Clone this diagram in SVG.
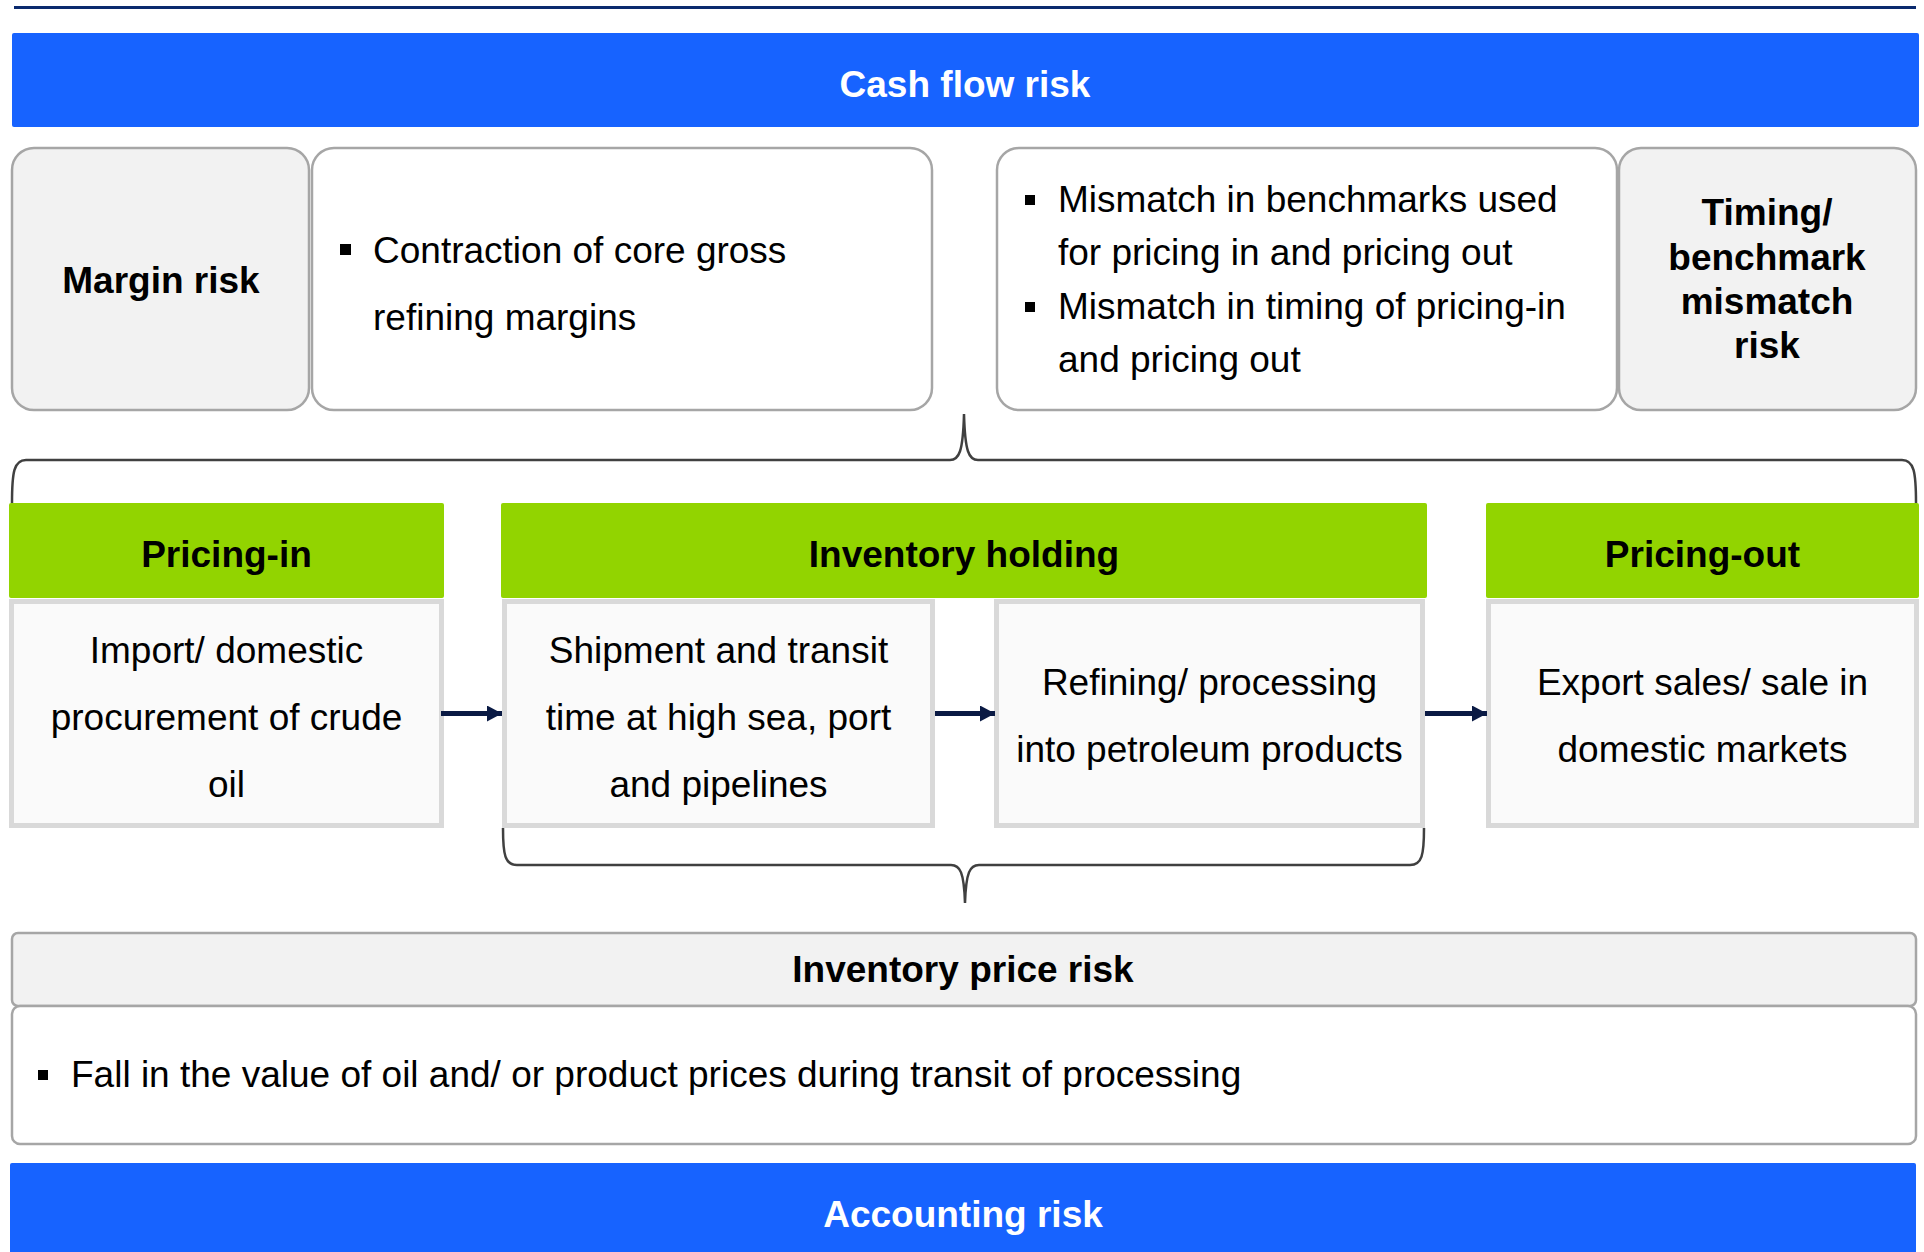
<svg xmlns="http://www.w3.org/2000/svg" width="1924" height="1252" viewBox="0 0 1924 1252">
  <style>
    text { font-family: "Liberation Sans", Arial, Helvetica, sans-serif; font-size: 37px; fill: #000; }
    .b { font-weight: bold; }
    .w { fill: #fff; }
    .c { text-anchor: middle; }
    .band { fill: #1763ff; }
    .grey { fill: #f2f2f2; stroke: #a6a6a6; stroke-width: 2.5; }
    .white { fill: #fff; stroke: #a6a6a6; stroke-width: 2.5; }
    .green { fill: #92d400; }
    .step { fill: #fafafa; stroke: #d9d9d9; stroke-width: 5; }
    .brace { fill: none; stroke: #404040; stroke-width: 2.5; }
    .flow { stroke: #0a1a44; stroke-width: 5; }
    .dot { fill: #000; }
  </style>
  <defs>
    <marker id="head" markerUnits="userSpaceOnUse" markerWidth="16" markerHeight="16" refX="15" refY="8" orient="auto">
      <path d="M0,0 L15,8 L0,16 Z" fill="#0a1a44"/>
    </marker>
  </defs>

  <!-- header rule -->
  <line x1="14" y1="7.5" x2="1916" y2="7.5" stroke="#0a2a6e" stroke-width="3"/>

  <g id="cash-flow-risk">
    <rect class="band" x="12" y="33" width="1907" height="94" rx="2"/>
    <text class="b w c" x="965" y="97">Cash flow risk</text>
  </g>

  <g id="margin-risk">
    <rect class="grey" x="12" y="148" width="297" height="262" rx="22"/>
    <text class="b c" x="161" y="293">Margin risk</text>
  </g>

  <g id="margin-detail">
    <rect class="white" x="312" y="148" width="620" height="262" rx="22"/>
    <rect class="dot" x="340" y="244" width="11" height="11"/>
    <text x="373" y="263">Contraction of core gross</text>
    <text x="373" y="330">refining margins</text>
  </g>

  <g id="mismatch-detail">
    <rect class="white" x="997" y="148" width="620" height="262" rx="22"/>
    <rect class="dot" x="1025" y="195" width="10" height="10"/>
    <text x="1058" y="212">Mismatch in benchmarks used</text>
    <text x="1058" y="265">for pricing in and pricing out</text>
    <rect class="dot" x="1025" y="302" width="10" height="10"/>
    <text x="1058" y="319">Mismatch in timing of pricing-in</text>
    <text x="1058" y="372">and pricing out</text>
  </g>

  <g id="timing-risk">
    <rect class="grey" x="1619" y="148" width="297" height="262" rx="22"/>
    <text class="b c" x="1767" y="225">Timing/</text>
    <text class="b c" x="1767" y="270">benchmark</text>
    <text class="b c" x="1767" y="314">mismatch</text>
    <text class="b c" x="1767" y="358">risk</text>
  </g>

  <g id="pricing-in">
    <rect class="green" x="9" y="503" width="435" height="95" rx="2"/>
    <text class="b c" x="226.5" y="567">Pricing-in</text>
    <rect class="step" x="11.5" y="601.5" width="430" height="224"/>
    <text class="c" x="226.5" y="663">Import/ domestic</text>
    <text class="c" x="226.5" y="730">procurement of crude</text>
    <text class="c" x="226.5" y="797">oil</text>
  </g>

  <g id="inventory-holding">
    <rect class="green" x="501" y="503" width="926" height="95" rx="2"/>
    <text class="b c" x="964" y="567">Inventory holding</text>
  </g>

  <g id="shipment">
    <rect class="step" x="504.5" y="601.5" width="428" height="224"/>
    <text class="c" x="718.5" y="663">Shipment and transit</text>
    <text class="c" x="718.5" y="730">time at high sea, port</text>
    <text class="c" x="718.5" y="797">and pipelines</text>
  </g>

  <g id="refining">
    <rect class="step" x="996.5" y="601.5" width="426" height="224"/>
    <text class="c" x="1209.5" y="695">Refining/ processing</text>
    <text class="c" x="1209.5" y="762">into petroleum products</text>
  </g>

  <g id="pricing-out">
    <rect class="green" x="1486" y="503" width="433" height="95" rx="2"/>
    <text class="b c" x="1702.5" y="567">Pricing-out</text>
    <rect class="step" x="1488.5" y="601.5" width="428" height="224"/>
    <text class="c" x="1702.5" y="695">Export sales/ sale in</text>
    <text class="c" x="1702.5" y="762">domestic markets</text>
  </g>

  <g id="connectors">
    <path class="brace" d="M12,503 C12,472 14,460 26,460 L950,460 C959,460 963,452 964,414 C965,452 969,460 978,460 L1902,460 C1914,460 1916,472 1916,503"/>
    <path class="brace" d="M503,828 C503,855 505,865 517,865 L951,865 C960,865 964,872 965,903 C966,872 970,865 979,865 L1410,865 C1422,865 1424,855 1424,828"/>
    <line class="flow" x1="441" y1="713.5" x2="502" y2="713.5" marker-end="url(#head)"/>
    <line class="flow" x1="935" y1="713.5" x2="995" y2="713.5" marker-end="url(#head)"/>
    <line class="flow" x1="1425" y1="713.5" x2="1487" y2="713.5" marker-end="url(#head)"/>
  </g>

  <g id="inventory-price-risk">
    <rect class="grey" x="12" y="933" width="1904" height="73" rx="6"/>
    <text class="b c" x="963" y="982">Inventory price risk</text>
  </g>

  <g id="inventory-price-detail">
    <rect class="white" x="12" y="1006" width="1904" height="138" rx="8"/>
    <rect class="dot" x="38" y="1070" width="10" height="10"/>
    <text x="71" y="1087">Fall in the value of oil and/ or product prices during transit of processing</text>
  </g>

  <g id="accounting-risk">
    <rect class="band" x="10" y="1163" width="1906" height="100" rx="2"/>
    <text class="b w c" x="963" y="1227">Accounting risk</text>
  </g>
</svg>
